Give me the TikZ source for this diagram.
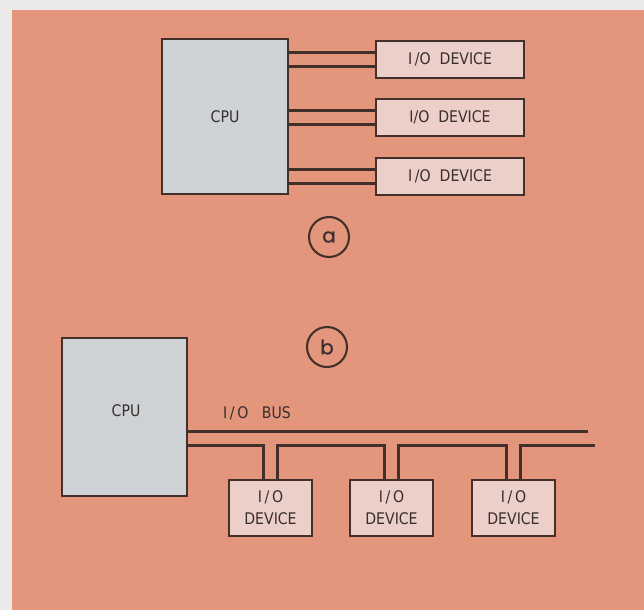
\documentclass[tikz,border=0pt]{standalone}
\usepackage{fontspec}
\setmainfont[FakeStretch=0.88]{DejaVu Sans}
\newfontfamily\circfont[FakeBold=0.6]{Poppins}
\definecolor{margincol}{RGB}{236,234,232}
\definecolor{salmon}{RGB}{228,150,124}
\definecolor{cpufill}{RGB}{207,210,213}
\definecolor{devfill}{RGB}{236,207,200}
\definecolor{linecol}{RGB}{66,48,44}
\definecolor{textcol}{RGB}{55,46,46}
\tikzset{
  ln/.style={draw=linecol, line width=2.1pt},
  cpubox/.style={ln, fill=cpufill, inner sep=0pt, text=textcol, font=\fontsize{16}{18}\selectfont},
  devbox/.style={ln, fill=devfill, inner sep=0pt, text=textcol, font=\fontsize{16}{22}\selectfont, align=center},
  tag/.style={ln, circle, minimum size=40pt, inner sep=0pt, text=textcol, font=\circfont\fontsize{20}{22}\selectfont},
  lbl/.style={text=textcol, font=\fontsize{16}{18}\selectfont, inner sep=0pt}
}
\begin{document}
\begin{tikzpicture}[x=1pt,y=-1pt]
\useasboundingbox (0,0) rectangle (644,610);
\fill[margincol] (0,0) rectangle (644,610);
\fill[salmon] (12,10) rectangle (644,610);

% ---------- (a) ----------
\node[cpubox, minimum width=126pt, minimum height=155pt] (cpuA) at (225,116.5) {CPU};
\node[devbox, minimum width=148pt, minimum height=37pt] (devA1) at (450,59.5) {I\,/O\ \ DEVICE};
\node[devbox, minimum width=148pt, minimum height=37pt] (devA2) at (450,117.5) {I/O\ \ DEVICE};
\node[devbox, minimum width=148pt, minimum height=37pt] (devA3) at (450,176.5) {I\,/O\ \ DEVICE};
\foreach \d in {devA1,devA2,devA3}{
  \coordinate (\d u) at ([yshift=7pt]\d.west);
  \coordinate (\d l) at ([yshift=-7pt]\d.west);
  \draw[ln] (cpuA.east |- \d u) -- (\d u);
  \draw[ln] (cpuA.east |- \d l) -- (\d l);
}
\node[tag] (tagA) at (329,237) {a};

% ---------- (b) ----------
\node[tag] (tagB) at (327,347) {b};
\node[cpubox, minimum width=125pt, minimum height=158pt] (cpuB) at (124.5,417) {};
\node[lbl] (cpuBlabel) at (126,411) {CPU};
\node[lbl] (busLabel) at (257,413) {I\,/\,O\ \ \ BUS};
\node[devbox, minimum width=83pt, minimum height=56pt] (devB1) at (270.5,508) {I\,/\,O\\DEVICE};
\node[devbox, minimum width=83pt, minimum height=56pt] (devB2) at (391.5,508) {I\,/\,O\\DEVICE};
\node[devbox, minimum width=83pt, minimum height=56pt] (devB3) at (513.5,508) {I\,/\,O\\DEVICE};
\coordinate (busEndA) at (588,431.5);
\coordinate (busEndB) at (595,445.5);
\draw[ln] (cpuB.east |- busEndA) -- (busEndA);
\foreach \d in {devB1,devB2,devB3}{
  \coordinate (\d L) at ([xshift=-7pt]\d.north);
  \coordinate (\d R) at ([xshift=7pt]\d.north);
}
\draw[ln] (cpuB.east |- busEndB) -| (devB1L);
\draw[ln] (devB1R) |- (devB2L |- busEndB) -- (devB2L);
\draw[ln] (devB2R) |- (devB3L |- busEndB) -- (devB3L);
\draw[ln] (devB3R) |- (busEndB);
\end{tikzpicture}
\end{document}
